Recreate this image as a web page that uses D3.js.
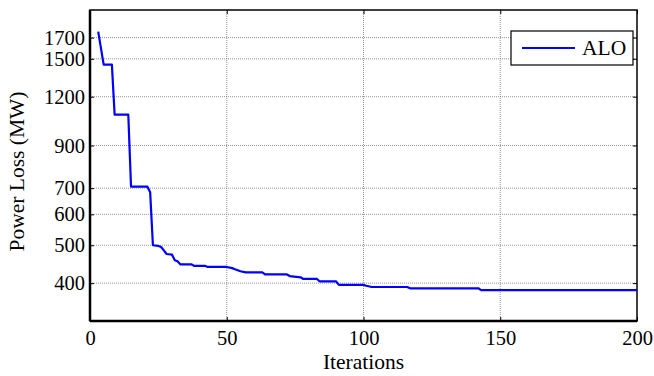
<!DOCTYPE html>
<html>
<head>
<meta charset="utf-8">
<script src="https://cdn.jsdelivr.net/npm/d3@7"></script>
<style>
  body { margin: 0; background: #fff; }
  svg { display: block; }
  text { font-family: "Liberation Serif", serif; }
</style>
</head>
<body>
<script>
// Convergence curve of ALO: power loss per iteration
const iterations = [3, 5, 8, 9, 14, 15, 21, 22, 23, 25, 26, 27, 28, 30, 31, 32, 33, 37, 38, 42, 43, 50,
  52, 53, 55, 57, 63, 64, 72, 73, 77, 78, 83, 84, 90, 91, 100, 101, 103, 116, 117, 142, 143, 200];
const powerLoss = [1760, 1450, 1450, 1080, 1080, 706, 706, 683, 500, 498, 495, 485, 475, 473, 458, 455, 447, 447, 443, 443, 440, 440,
  437, 434, 429, 426, 426, 421, 421, 417, 414, 410, 410, 404, 404, 396, 396, 394, 391, 391, 388, 388, 384, 384];

const xTicks = [0, 50, 100, 150, 200];
const yTicks = [400, 500, 600, 700, 900, 1200, 1500, 1700];
const seriesName = "ALO";

const W = 654, H = 376;
const m = { left: 90, right: 17, top: 10, bottom: 55 };
const serif = "Liberation Serif, serif";

const svg = d3.select("body").append("svg")
  .attr("width", W)
  .attr("height", H)
  .attr("font-family", serif);

const x = d3.scaleLinear().domain([0, 200]).range([m.left, W - m.right]);
const y = d3.scaleLog().domain([320, 2000]).range([H - m.bottom, m.top]);

const x0 = x.range()[0], x1 = x.range()[1];
const y0 = y.range()[0], y1 = y.range()[1];

// grid lines (dotted)
const grid = svg.append("g").attr("stroke", "#7a7a7a").attr("stroke-width", 0.8).attr("stroke-dasharray", "1,1");
grid.selectAll("line.gx").data(xTicks.slice(1, -1)).enter().append("line")
  .attr("x1", d => x(d)).attr("x2", d => x(d)).attr("y1", y0).attr("y2", y1);
grid.selectAll("line.gy").data(yTicks).enter().append("line")
  .attr("x1", x0).attr("x2", x1).attr("y1", d => y(d)).attr("y2", d => y(d));

// axes with inward ticks
const fs = 20.5;
const axB = svg.append("g").attr("transform", `translate(0,${y0})`)
  .call(d3.axisBottom(x).tickValues(xTicks).tickSize(-4).tickPadding(9));
const axL = svg.append("g").attr("transform", `translate(${x0},0)`)
  .call(d3.axisLeft(y).tickValues(yTicks).tickFormat(d3.format("d")).tickSize(-4).tickPadding(5));
const axT = svg.append("g").attr("transform", `translate(0,${y1})`)
  .call(d3.axisTop(x).tickValues(xTicks).tickSize(-4).tickFormat(""));
const axR = svg.append("g").attr("transform", `translate(${x1},0)`)
  .call(d3.axisRight(y).tickValues(yTicks).tickSize(-4).tickFormat(""));

[axB, axL, axT, axR].forEach(g => {
  g.attr("font-family", serif).attr("font-size", fs);
  g.select(".domain").remove();
  g.selectAll(".tick line").attr("stroke", "#000").attr("stroke-width", 1);
  g.selectAll("text").attr("fill", "#000");
});

// frame
svg.append("rect")
  .attr("x", x0).attr("y", y1).attr("width", x1 - x0).attr("height", y0 - y1)
  .attr("fill", "none").attr("stroke", "#000").attr("stroke-width", 1.5);
svg.append("line").attr("x1", x0).attr("x2", x1).attr("y1", y0).attr("y2", y0)
  .attr("stroke", "#000").attr("stroke-width", 2.5);
svg.append("line").attr("x1", x0).attr("x2", x0).attr("y1", y0).attr("y2", y1)
  .attr("stroke", "#000").attr("stroke-width", 2.5);

// series line
const line = d3.line().x((d, i) => x(iterations[i])).y(d => y(d));
svg.append("path")
  .datum(powerLoss)
  .attr("d", line)
  .attr("fill", "none")
  .attr("stroke", "#0000ff")
  .attr("stroke-width", 2.2)
  .attr("stroke-linejoin", "round");

// axis titles
svg.append("text")
  .attr("x", (x0 + x1) / 2).attr("y", 369)
  .attr("text-anchor", "middle").attr("font-size", 21.5)
  .text("Iterations");
svg.append("text")
  .attr("transform", `translate(24,${(y0 + y1) / 2 + 6}) rotate(-90)`)
  .attr("text-anchor", "middle").attr("font-size", 21.5)
  .text("Power Loss (MW)");

// legend
const lg = svg.append("g").attr("transform", "translate(511,31)");
lg.append("rect").attr("width", 122).attr("height", 34)
  .attr("fill", "#fff").attr("stroke", "#000").attr("stroke-width", 1.2);
lg.append("line").attr("x1", 11).attr("x2", 64).attr("y1", 17).attr("y2", 17)
  .attr("stroke", "#0000ff").attr("stroke-width", 2.2);
lg.append("text").attr("x", 71).attr("y", 24).attr("font-size", 21.5).text(seriesName);
</script>
</body>
</html>
